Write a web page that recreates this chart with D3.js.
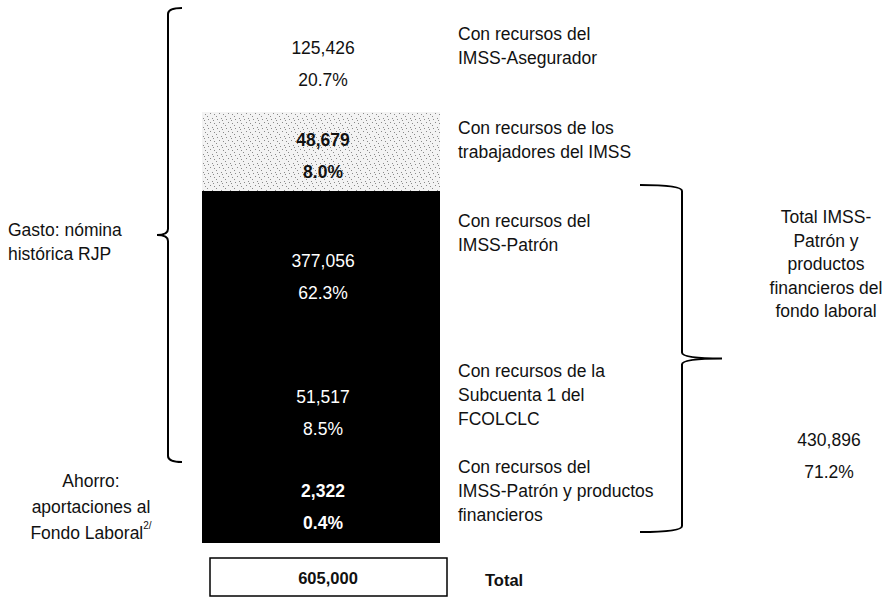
<!DOCTYPE html>
<html>
<head>
<meta charset="utf-8">
<script src="https://cdn.jsdelivr.net/npm/d3@7"></script>
<style>
  body { margin: 0; background: #fff; }
  svg { font-family: "Liberation Sans", Arial, Helvetica, sans-serif; }
</style>
</head>
<body>
<div id="chart"></div>
<script>
// segments of the bar, top to bottom
var segments = ['asegurador', 'trabajadores', 'patron', 'subcuenta', 'productos'];
var values = [125426, 48679, 377056, 51517, 2322];
var shares = ['20.7%', '8.0%', '62.3%', '8.5%', '0.4%'];
var segLabels = [
    ['Con recursos del', 'IMSS-Asegurador'],
    ['Con recursos de los', 'trabajadores del IMSS'],
    ['Con recursos del', 'IMSS-Patrón'],
    ['Con recursos de la', 'Subcuenta 1 del', 'FCOLCLC'],
    ['Con recursos del', 'IMSS-Patrón y productos', 'financieros']
];
var total = 605000;
var patronTotal = 430896;
var patronShare = '71.2%';
var patronLabel = ['Total IMSS-', 'Patrón y', 'productos', 'financieros del', 'fondo laboral'];
var gastoLabel = ['Gasto: nómina', 'histórica RJP'];
var ahorroLabel = ['Ahorro:', 'aportaciones al', 'Fondo Laboral'];

var svgWidth = 888;
var svgHeight = 602;
var fs = 17.5;

var svg = d3.select('#chart').append('svg')
    .attr('width', svgWidth).attr('height', svgHeight);

// pattern for the stippled segment
var defs = svg.append('defs');
var pat = defs.append('pattern')
    .attr('id', 'stipple').attr('width', 9).attr('height', 9)
    .attr('patternUnits', 'userSpaceOnUse');
pat.append('rect').attr('width', 9).attr('height', 9).attr('fill', '#f3f3f3');
[[1, 2], [5, 1], [3, 5], [7, 6], [0, 8], [6, 3]].forEach(function(p) {
    pat.append('rect').attr('x', p[0]).attr('y', p[1])
        .attr('width', 1).attr('height', 1).attr('fill', '#8a8a8a');
});

// cumulative stack
var stack = [];
var acc = 0;
values.forEach(function(v, i) {
    stack.push({key: segments[i], value: v, share: shares[i], y0: acc, y1: acc + v, label: segLabels[i]});
    acc += v;
});

// the drawing is schematic: piecewise scale on the cumulative value
var yScale = d3.scaleLinear()
    .domain([0, stack[0].y1, stack[1].y1, stack[2].y1, stack[3].y1, total])
    .range([8, 112, 191, 355, 462, 543]);

var xScale = d3.scaleBand().domain(['bar']).range([202, 440]);

var fills = {asegurador: 'none', trabajadores: 'url(#stipple)', patron: '#000', subcuenta: '#000', productos: '#000'};
var textFill = {asegurador: '#111', trabajadores: '#111', patron: '#fff', subcuenta: '#fff', productos: '#fff'};
var bold = {asegurador: false, trabajadores: true, patron: false, subcuenta: false, productos: true};

var fmt = d3.format(',');

svg.selectAll('rect.seg')
    .data(stack)
    .enter()
    .append('rect')
    .attr('class', 'seg')
    .attr('x', xScale('bar'))
    .attr('width', xScale.bandwidth())
    .attr('y', d => yScale(d.y0))
    .attr('height', d => yScale(d.y1) - yScale(d.y0))
    .attr('fill', d => fills[d.key]);

var valGroup = svg.selectAll('g.val')
    .data(stack)
    .enter()
    .append('g')
    .attr('transform', d => `translate(${xScale('bar') + xScale.bandwidth() / 2 + 2},${(yScale(d.y0) + yScale(d.y1)) / 2 + 4})`);

valGroup.append('text')
    .attr('y', -16)
    .attr('text-anchor', 'middle')
    .attr('dominant-baseline', 'central')
    .attr('font-size', fs)
    .attr('font-weight', d => bold[d.key] ? 'bold' : 'normal')
    .attr('fill', d => textFill[d.key])
    .text(d => fmt(d.value));

valGroup.append('text')
    .attr('y', 16)
    .attr('text-anchor', 'middle')
    .attr('dominant-baseline', 'central')
    .attr('font-size', fs)
    .attr('font-weight', d => bold[d.key] ? 'bold' : 'normal')
    .attr('fill', d => textFill[d.key])
    .text(d => d.share);

// labels to the right of the bar
var labelShift = {asegurador: -14, trabajadores: -12, patron: -40, subcuenta: -14, productos: -12};
var lineH = 24;
svg.selectAll('text.seglabel')
    .data(stack)
    .enter()
    .append('text')
    .attr('class', 'seglabel')
    .attr('font-size', fs)
    .attr('fill', '#111')
    .attr('dominant-baseline', 'central')
    .each(function(d) {
        var mid = (yScale(d.y0) + yScale(d.y1)) / 2 + labelShift[d.key];
        var n = d.label.length;
        d3.select(this).selectAll('tspan')
            .data(d.label)
            .enter()
            .append('tspan')
            .attr('x', 458)
            .attr('y', (t, i) => mid + (i - (n - 1) / 2) * lineH)
            .text(t => t);
    });

// braces
function brace(x, top, bottom, dir, hook, point) {
    var mid = (top + bottom) / 2;
    var p = d3.path();
    p.moveTo(x + hook * -dir, top);
    p.quadraticCurveTo(x, top, x, top + 6);
    p.lineTo(x, mid - 6);
    p.quadraticCurveTo(x, mid, x + dir * point, mid);
    p.quadraticCurveTo(x, mid, x, mid + 6);
    p.lineTo(x, bottom - 6);
    p.quadraticCurveTo(x, bottom, x + hook * -dir, bottom);
    return p.toString();
}

svg.append('path')
    .attr('d', brace(168, yScale(0), yScale(stack[3].y1), -1, 14, 11))
    .attr('fill', 'none').attr('stroke', '#000').attr('stroke-width', 2);

svg.append('path')
    .attr('d', brace(682, yScale(stack[1].y1) - 6, yScale(total) - 11, 1, 42, 40))
    .attr('fill', 'none').attr('stroke', '#000').attr('stroke-width', 2);

// left side labels
svg.append('text')
    .attr('font-size', fs).attr('fill', '#111').attr('dominant-baseline', 'central')
    .selectAll('tspan').data(gastoLabel).enter().append('tspan')
    .attr('x', 8).attr('y', (t, i) => 230 + i * lineH).text(t => t);

var ahorro = svg.append('text')
    .attr('font-size', fs).attr('fill', '#111').attr('dominant-baseline', 'central')
    .attr('text-anchor', 'middle');
ahorro.selectAll('tspan').data(ahorroLabel).enter().append('tspan')
    .attr('x', 91).attr('y', (t, i) => 481 + i * 26).text(t => t);
ahorro.append('tspan').attr('font-size', 10).attr('dy', -8).text('2/');

// far right block
var right = svg.append('text')
    .attr('font-size', fs).attr('fill', '#111').attr('dominant-baseline', 'central')
    .attr('text-anchor', 'middle');
right.selectAll('tspan').data(patronLabel).enter().append('tspan')
    .attr('x', 826).attr('y', (t, i) => 217 + i * 23.5).text(t => t);

svg.append('text')
    .attr('x', 829).attr('y', 440)
    .attr('font-size', fs).attr('fill', '#111').attr('text-anchor', 'middle')
    .attr('dominant-baseline', 'central')
    .text(fmt(patronTotal));
svg.append('text')
    .attr('x', 829).attr('y', 472)
    .attr('font-size', fs).attr('fill', '#111').attr('text-anchor', 'middle')
    .attr('dominant-baseline', 'central')
    .text(patronShare);

// total box
svg.append('rect')
    .attr('x', 210).attr('y', 558).attr('width', 237).attr('height', 38)
    .attr('fill', 'none').attr('stroke', '#000').attr('stroke-width', 1.5);
svg.append('text')
    .attr('x', 328).attr('y', 578)
    .attr('font-size', 16.5).attr('font-weight', 'bold').attr('fill', '#111')
    .attr('text-anchor', 'middle').attr('dominant-baseline', 'central')
    .text(fmt(total));
svg.append('text')
    .attr('x', 485).attr('y', 580)
    .attr('font-size', 16.5).attr('font-weight', 'bold').attr('fill', '#111')
    .attr('dominant-baseline', 'central')
    .text('Total');
</script>
</body>
</html>
